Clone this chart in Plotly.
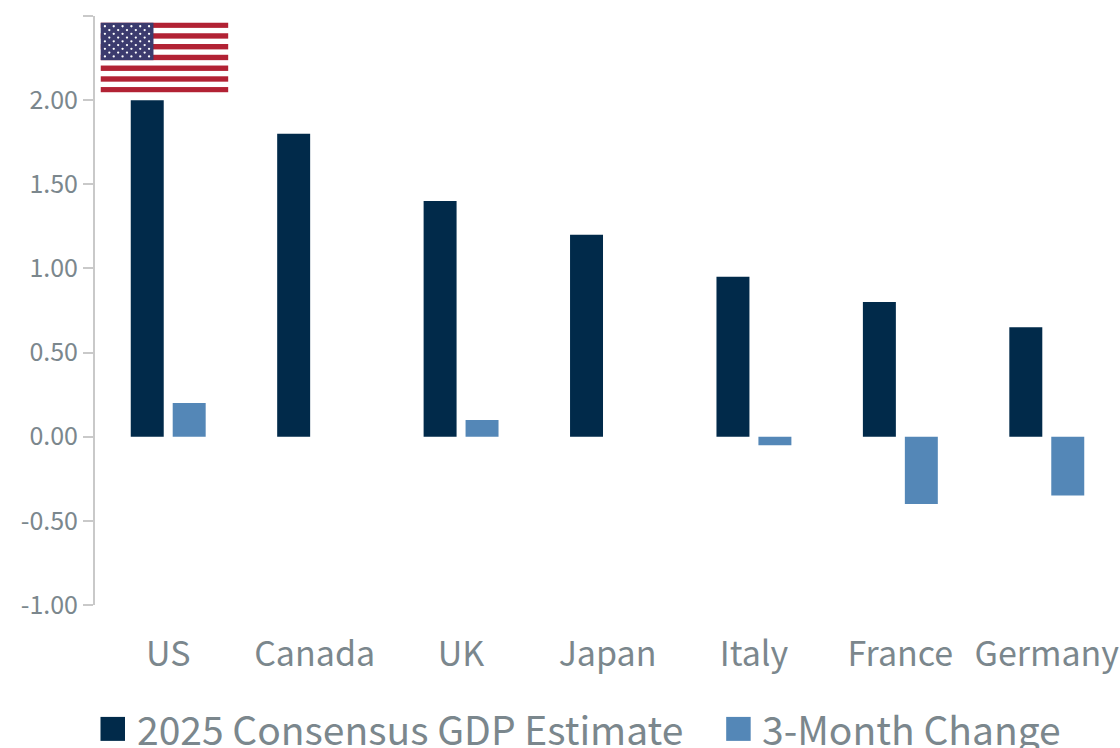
import base64
import plotly.graph_objects as go

countries = ["US", "Canada", "UK", "Japan", "Italy", "France", "Germany"]
consensus_2025 = [2.00, 1.80, 1.40, 1.20, 0.95, 0.80, 0.65]
three_month_change = [0.20, 0.00, 0.10, 0.00, -0.05, -0.40, -0.35]
y_ticks = [2.5, 2.0, 1.5, 1.0, 0.5, 0.0, -0.5, -1.0]
boundaries = [0.5, 1.5, 2.5, 3.5, 4.5, 5.5]
series_names = ["2025 Consensus GDP Estimate", "3-Month Change"]

DARK = "#012a4a"
LIGHT = "#5487b7"
TEXT = "#7b878d"
AXIS = "#c9c9c9"
FONT = "Noto Sans CJK JP"

W, H = 1120, 748
L, R, T, B = 94.5, 0, 15.5, 143
PW, PH = W - L - R, H - T - B
Y_MIN, Y_MAX = -1.0, 2.5


def flag_svg():
    """Build the US flag as an inline SVG data URI."""
    w, h = 128, 70
    sh = h / 13
    cw, ch = 53, sh * 7
    parts = [f'<svg xmlns="http://www.w3.org/2000/svg" viewBox="0 0 {w} {h}" '
             f'width="{w*4}" height="{h*4}" preserveAspectRatio="none">',
             f'<rect width="{w}" height="{h}" fill="#ffffff"/>']
    for i in range(0, 13, 2):
        parts.append(f'<rect y="{i*sh:.3f}" width="{w}" height="{sh:.3f}" fill="#b22234"/>')
    parts.append(f'<rect width="{cw}" height="{ch:.3f}" fill="#3c3b6e"/>')
    for row in range(9):
        n = 6 if row % 2 == 0 else 5
        for col in range(n):
            x = cw * (2 * col + (1 if row % 2 == 0 else 2)) / 12
            y = ch * (row + 1) / 10
            parts.append(f'<circle cx="{x:.2f}" cy="{y:.2f}" r="1.15" fill="#ffffff"/>')
    parts.append("</svg>")
    return "data:image/svg+xml;base64," + base64.b64encode("".join(parts).encode()).decode()


def px_x(p):
    return (p - L) / PW


def px_y(p):
    return 1 - (p - T) / PH


fig = go.Figure()
fig.add_bar(x=countries, y=consensus_2025, name=series_names[0], marker_color=DARK, marker_line_width=0)
fig.add_bar(x=countries, y=three_month_change, name=series_names[1], marker_color=LIGHT, marker_line_width=0)

shapes, annotations = [], []
for name, color, sw, tx in zip(series_names, [DARK, LIGHT], [100, 726], [135, 760]):
    shapes.append(dict(type="rect", xref="paper", yref="paper",
                       x0=px_x(sw), x1=px_x(sw + 24.5), y0=px_y(741), y1=px_y(717),
                       fillcolor=color, line_width=0))
    annotations.append(dict(text=name, xref="paper", yref="paper", x=px_x(tx), y=px_y(728),
                            xanchor="left", yanchor="middle", showarrow=False,
                            font=dict(family=FONT, size=39, color=TEXT)))

fig.update_layout(
    width=W, height=H, autosize=False,
    margin=dict(l=L, r=R, t=T, b=B, pad=0),
    paper_bgcolor="white", plot_bgcolor="white",
    barmode="group", bargap=0.427, bargroupgap=0.214,
    showlegend=False,
    shapes=shapes, annotations=annotations,
    images=[dict(source=flag_svg(), xref="paper", yref="paper",
                 x=px_x(100), y=px_y(22), sizex=128 / PW, sizey=70 / PH,
                 xanchor="left", yanchor="top", sizing="stretch", layer="above")],
    xaxis=dict(type="category", categoryorder="array", categoryarray=countries,
               range=[-0.5, 6.5], showgrid=False, zeroline=False, showline=False,
               ticks="", ticklabelstandoff=26,
               tickfont=dict(family=FONT, size=34, color=TEXT)),
    xaxis2=dict(overlaying="x", anchor="free", position=(0 - Y_MIN) / (Y_MAX - Y_MIN),
                range=[-0.5, 6.5], tickmode="array", tickvals=boundaries, ticktext=[""] * 6,
                showgrid=False, zeroline=False, showline=True, linecolor=AXIS, linewidth=2,
                ticks="outside", ticklen=12, tickwidth=2, tickcolor=AXIS, side="bottom"),
    yaxis=dict(range=[Y_MIN, Y_MAX], tickmode="array", tickvals=y_ticks,
               ticktext=[f"{v:.2f}" for v in y_ticks], showgrid=False, zeroline=False,
               showline=True, linecolor=AXIS, linewidth=2,
               ticks="outside", ticklen=10, tickwidth=2, tickcolor=AXIS,
               tickfont=dict(family=FONT, size=25, color=TEXT)),
)

fig.write_html("out.html", config=dict(displayModeBar=False))
